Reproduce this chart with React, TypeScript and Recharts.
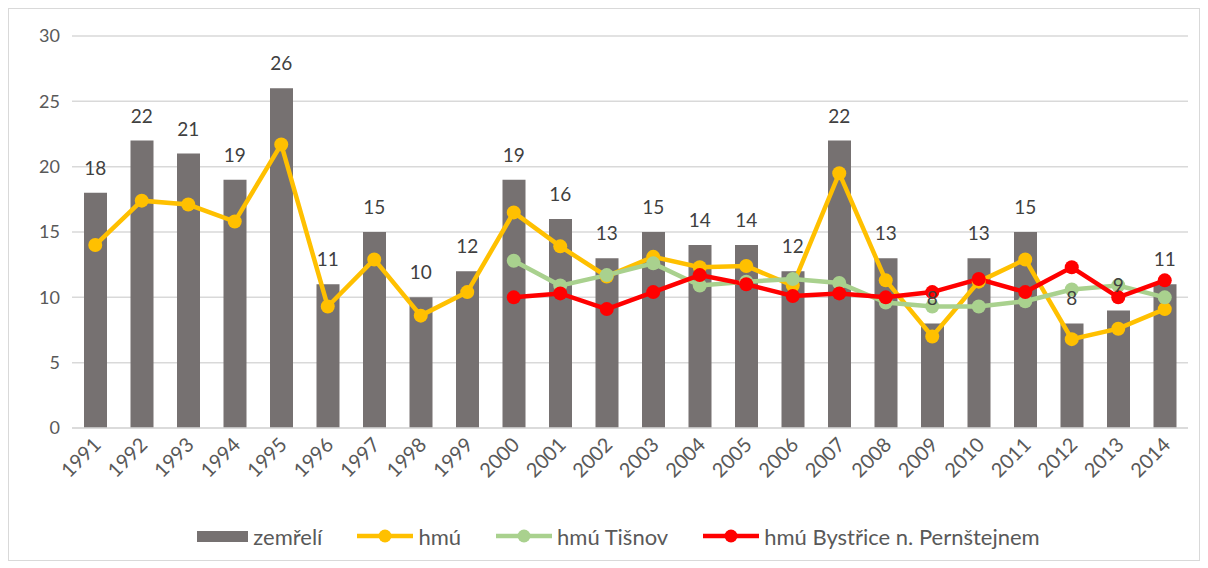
// Úmrtnost a hmú 1991–2014 — combo chart
import React from "react"
import {
  ComposedChart,
  Bar,
  Line,
  XAxis,
  YAxis,
  CartesianGrid,
  Legend,
  LabelList,
} from "recharts"

const years = [
  "1991", "1992", "1993", "1994", "1995", "1996", "1997", "1998", "1999", "2000", "2001", "2002",
  "2003", "2004", "2005", "2006", "2007", "2008", "2009", "2010", "2011", "2012", "2013", "2014",
]

const zemreli = [18, 22, 21, 19, 26, 11, 15, 10, 12, 19, 16, 13, 15, 14, 14, 12, 22, 13, 8, 13, 15, 8, 9, 11]

const hmu = [
  14.0, 17.4, 17.1, 15.8, 21.7, 9.3, 12.9, 8.6, 10.4, 16.5, 13.9, 11.6,
  13.1, 12.3, 12.4, 10.9, 19.5, 11.3, 7.0, 11.2, 12.9, 6.8, 7.6, 9.1,
]

const hmuTisnov = [
  null, null, null, null, null, null, null, null, null, 12.8, 10.9, 11.7,
  12.6, 10.9, 11.2, 11.4, 11.1, 9.6, 9.3, 9.3, 9.7, 10.6, 10.9, 10.0,
]

const hmuBystrice = [
  null, null, null, null, null, null, null, null, null, 10.0, 10.3, 9.1,
  10.4, 11.7, 11.0, 10.1, 10.3, 10.0, 10.4, 11.4, 10.4, 12.3, 10.0, 11.3,
]

const yTicks = [0, 5, 10, 15, 20, 25, 30]

const data = years.map((year, i) => ({
  year,
  zemreli: zemreli[i],
  zemreliLabel: zemreli[i],
  hmu: hmu[i],
  tisnov: hmuTisnov[i],
  bystrice: hmuBystrice[i],
}))

const FONT = "Lato, 'Noto Sans', sans-serif"
const BAR = "#767171"
const YELLOW = "#FFC000"
const GREEN = "#A9D18E"
const RED = "#FF0000"

function YearTick({ x, y, payload }: any) {
  const tx = x + 7
  const ty = y + 10
  return (
    <text
      x={tx}
      y={ty}
      transform={`rotate(-45, ${tx}, ${ty})`}
      textAnchor="end"
      fontSize={20}
      fill="#595959"
      fontFamily={FONT}
    >
      {payload.value}
    </text>
  )
}

function LineIcon({ color }: { color: string }) {
  return (
    <svg width={56} height={16} style={{ display: "block" }}>
      <line x1={0} y1={8} x2={56} y2={8} stroke={color} strokeWidth={4.5} />
      <circle cx={28} cy={8} r={6.5} fill={color} />
    </svg>
  )
}

function ChartLegend() {
  const item = { display: "flex", alignItems: "center", gap: 5 } as const
  return (
    <div
      style={{
        height: 60,
        paddingTop: 12,
        paddingLeft: 40,
        boxSizing: "border-box",
        display: "flex",
        justifyContent: "center",
        alignItems: "center",
        gap: 35,
        fontFamily: FONT,
        fontSize: 22,
        color: "#595959",
      }}
    >
      <span style={item}>
        <span style={{ width: 51, height: 11, background: BAR, display: "inline-block" }} />
        zemřelí
      </span>
      <span style={item}>
        <LineIcon color={YELLOW} />
        hmú
      </span>
      <span style={item}>
        <LineIcon color={GREEN} />
        hmú Tišnov
      </span>
      <span style={item}>
        <LineIcon color={RED} />
        hmú Bystřice n. Pernštejnem
      </span>
    </div>
  )
}

export default function App() {
  return (
    <div
      style={{
        width: 1192,
        height: 553,
        border: "1px solid #d9d9d9",
        boxSizing: "border-box",
        background: "#fff",
      }}
    >
      <ComposedChart
        width={1190}
        height={551}
        data={data}
        margin={{ top: 27, right: 11, left: 0, bottom: 0 }}
      >
        <CartesianGrid vertical={false} stroke="#d9d9d9" strokeWidth={1.5} />
        <XAxis
          dataKey="year"
          height={72}
          axisLine={{ stroke: "#d9d9d9", strokeWidth: 1.5 }}
          tickLine={false}
          interval={0}
          tick={<YearTick />}
        />
        <YAxis
          width={63}
          domain={[0, 30]}
          ticks={yTicks}
          axisLine={false}
          tickLine={false}
          tickMargin={6}
          tick={{ fontSize: 18, fill: "#595959", fontFamily: FONT }}
        />
        <Legend verticalAlign="bottom" content={<ChartLegend />} />
        <Bar dataKey="zemreli" fill={BAR} barSize={23} isAnimationActive={false} />
        <Line
          dataKey="hmu"
          stroke={YELLOW}
          strokeWidth={4.5}
          dot={{ r: 7, fill: YELLOW, stroke: YELLOW, strokeWidth: 0 }}
          activeDot={false}
          isAnimationActive={false}
        />
        <Line
          dataKey="tisnov"
          stroke={GREEN}
          strokeWidth={4.5}
          dot={{ r: 7, fill: GREEN, stroke: GREEN, strokeWidth: 0 }}
          activeDot={false}
          isAnimationActive={false}
        />
        <Line
          dataKey="bystrice"
          stroke={RED}
          strokeWidth={4.5}
          dot={{ r: 7, fill: RED, stroke: RED, strokeWidth: 0 }}
          activeDot={false}
          isAnimationActive={false}
        />
        {/* invisible series so the bar labels sit above the lines */}
        <Line
          dataKey="zemreliLabel"
          stroke="none"
          dot={false}
          activeDot={false}
          legendType="none"
          isAnimationActive={false}
        >
          <LabelList
            dataKey="zemreliLabel"
            position="top"
            offset={18}
            fontSize={19}
            fill="#404040"
            fontFamily={FONT}
          />
        </Line>
      </ComposedChart>
    </div>
  )
}
